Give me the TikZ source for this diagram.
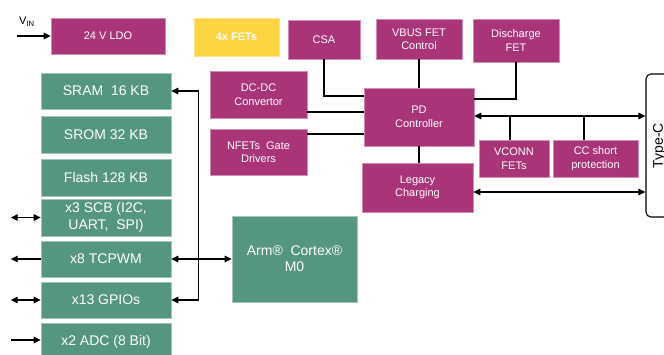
\documentclass[tikz,border=0pt]{standalone}
\usepackage{fontspec}
\setmainfont{Liberation Sans}
\usetikzlibrary{arrows.meta}
\definecolor{mag}{RGB}{170,52,120}
\definecolor{grn}{RGB}{85,150,128}
\definecolor{yel}{RGB}{252,211,64}
\begin{document}
\begin{tikzpicture}[x=1pt,y=-1pt,
  magbox/.style={fill=mag, draw=mag!55!white, line width=0.6pt, text=white,
    font=\fontsize{11}{13.5}\selectfont, align=center, inner sep=1pt},
  grnbox/.style={fill=grn, draw=grn!55!white, line width=0.6pt, text=white,
    font=\fontsize{14}{17}\selectfont, align=center, inner sep=1pt,
    minimum width=130pt},
  conn/.style={line width=1.3pt, draw=black},
  >={Triangle[length=7pt,width=6.5pt]}]
\useasboundingbox (0,0) rectangle (664,354);
\clip (0,0) rectangle (664,354);

% top row
\node[magbox, minimum width=114pt, minimum height=36pt] (ldo) at (108,36) {24 V LDO};
\node[fill=yel, draw=yel!60!white, line width=0.6pt, text=white, font=\fontsize{11}{13.5}\selectfont\bfseries,
  minimum width=85pt, minimum height=38pt] (fets) at (236.5,37) {4x FETs};
\node[magbox, minimum width=72pt, minimum height=39pt] (csa) at (324,39.5) {CSA};
\node[magbox, minimum width=86pt, minimum height=40pt] (vbus) at (419,39) {VBUS FET\\Control};
\node[magbox, minimum width=86pt, minimum height=43pt] (dis) at (516,40.5) {Discharge\\FET};

% middle magenta
\node[magbox, minimum width=97pt, minimum height=47pt] (dcdc) at (258.5,94.5) {DC-DC\\Convertor};
\node[magbox, minimum width=97pt, minimum height=46pt] (nfet) at (258.5,152) {NFETs~ Gate\\Drivers};
\node[magbox, minimum width=110pt, minimum height=58pt] (pd) at (419,117) {PD\\Controller};
\node[magbox, minimum width=111pt, minimum height=49pt] (leg) at (417.5,187.5) {Legacy\\Charging};
\node[magbox, minimum width=70pt, minimum height=37pt] (vconn) at (514,158.5) {VCONN\\FETs};
\node[magbox, minimum width=85pt, minimum height=37pt] (cc) at (595.5,158.5) {CC short\\protection};

% Type-C
\node[draw=black, line width=1.1pt, rounded corners=5pt, minimum width=60pt, minimum height=143pt] (typec) at (676,145.5) {};
\node[rotate=90, font=\fontsize{14}{17}\selectfont] (typect) at ([xshift=14pt]typec.west) {Type-C};

% green column
\node[grnbox, minimum height=36pt] (sram) at (106,91) {SRAM~ 16 KB};
\node[grnbox, minimum height=37pt] (srom) at (106,134.5) {SROM 32 KB};
\node[grnbox, minimum height=37pt] (flash) at (106,177.5) {Flash 128 KB};
\node[grnbox, minimum height=37pt] (scb) at (106,217.5) {x3 SCB (I2C,\\UART,~ SPI)};
\node[grnbox, minimum height=36pt] (tcpwm) at (106,259) {x8 TCPWM};
\node[grnbox, minimum height=36pt] (gpio) at (106,300) {x13 GPIOs};
\node[grnbox, minimum height=37pt] (adc) at (106,341.5) {x2 ADC (8 Bit)};
\node[grnbox, minimum width=125pt, minimum height=86pt, font=\fontsize{14}{16}\selectfont] (arm) at (294.5,259) {Arm®~ Cortex®\\M0};

% VIN
\node[font=\fontsize{11}{13}\selectfont, inner sep=0pt] (vin) at (27,22) {V\textsubscript{IN}};
\coordinate (vinin) at (17,36);
\draw[conn,->] (vinin) -- (ldo.west);

% connections to PD
\draw[conn] (csa.south) |- ([yshift=21pt]pd.west);
\draw[conn] (vbus.south) -- (vbus.south |- pd.north);
\draw[conn] (dis.south) |- ([yshift=18pt]pd.east);
\path ([yshift=-17.5pt]dcdc.east) coordinate (dc1);
\draw[conn] (dc1) -- (dc1 -| pd.west);
\path ([yshift=18pt]nfet.east) coordinate (nf1);
\draw[conn] (nf1) -- (nf1 -| pd.west);
\path ([yshift=1pt]pd.east) coordinate (pd1);
\draw[conn,<->] (pd1) -- (pd1 -| typec.west);
\draw[conn] ([xshift=-4pt]vconn.north) -- ([xshift=-4pt]vconn.north |- pd1);
\draw[conn] ([xshift=-11.5pt]cc.north) -- ([xshift=-11.5pt]cc.north |- pd1);
\draw[conn] (pd.south) -- (pd.south |- leg.north);
\path ([yshift=-4.5pt]leg.east) coordinate (lg1);
\draw[conn,<->] (lg1) -- (lg1 -| typec.west);

% bus on green side
\draw[conn,<->] (sram.east) -| ([xshift=27pt]gpio.east) -- (gpio.east);
\draw[conn,<->] (tcpwm.east) -- (arm.west);

% left arrows
\draw[conn,<->] (scb.west) -- ++(-30,0);
\draw[conn,->] (tcpwm.west) -- ++(-30,0);
\draw[conn,<->] (gpio.west) -- ++(-30,0);
\draw[conn,<-] ([yshift=1.5pt]adc.west) -- ++(-30,0);
\end{tikzpicture}
\end{document}
